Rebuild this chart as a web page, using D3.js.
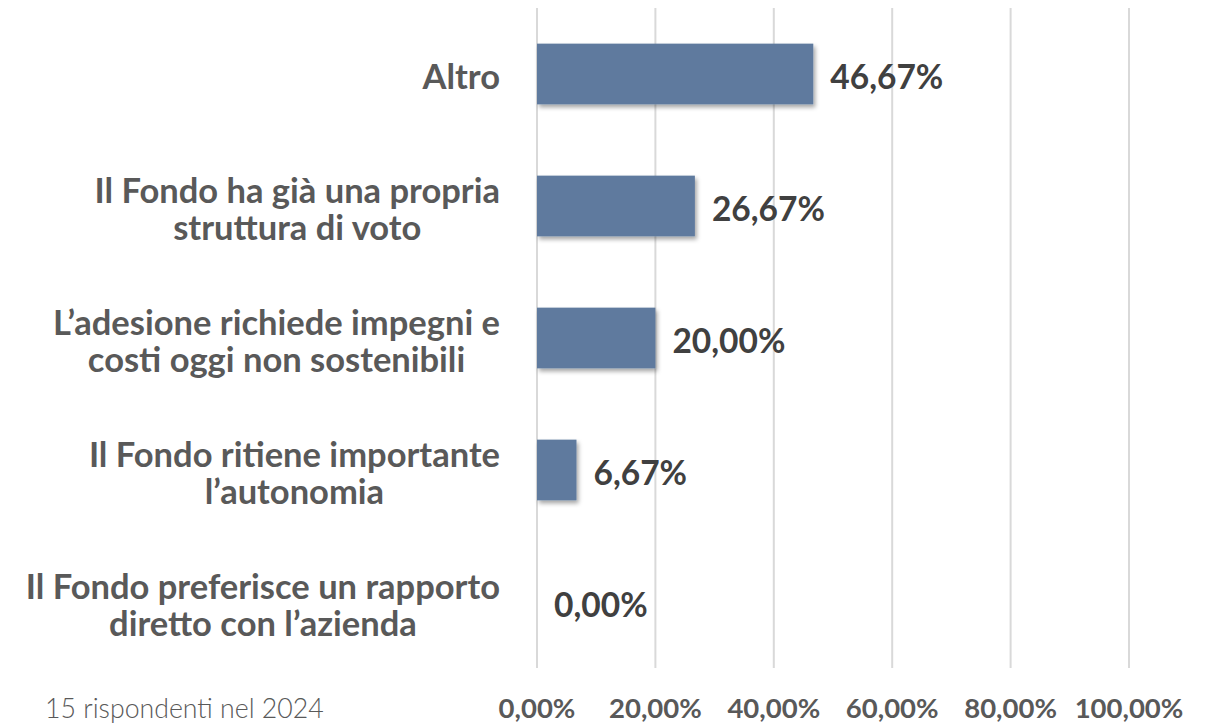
<!DOCTYPE html>
<html>
<head>
<meta charset="utf-8">
<script src="https://cdn.jsdelivr.net/npm/d3@7"></script>
<style>
  body { margin: 0; background: #fff; }
  svg { display: block; }
</style>
</head>
<body>
<div id="chart"></div>
<script>
// categories (top to bottom), each one split in lines as in the original
var categories = [
    ["Altro"],
    ["Il Fondo ha già una propria", "struttura di voto"],
    ["L\u2019adesione richiede impegni e", "costi oggi non sostenibili"],
    ["Il Fondo ritiene importante", "l\u2019autonomia"],
    ["Il Fondo preferisce un rapporto", "diretto con l\u2019azienda"]
];
var values = [46.67, 26.67, 20.00, 6.67, 0.00];
var ticks = [0, 20, 40, 60, 80, 100];
var note = "15 rispondenti nel 2024";

var width = 1215, height = 727;
var fmt = function(v) { return v.toFixed(2).replace(".", ",") + "%"; };

var svg = d3.select("#chart").append("svg")
    .attr("width", width).attr("height", height);

// drop shadow for bars
var defs = svg.append("defs");
defs.append("filter").attr("id", "shadow")
    .attr("x", "-10%").attr("y", "-10%").attr("width", "130%").attr("height", "140%")
  .append("feDropShadow")
    .attr("dx", 2).attr("dy", 3).attr("stdDeviation", 2)
    .attr("flood-color", "#000").attr("flood-opacity", 0.35);

var x = d3.scaleLinear().domain([0, 100]).range([537, 1129]);
var y = d3.scaleBand().domain(d3.range(categories.length))
    .range([8, 668]).paddingInner(0.54).paddingOuter(0.27);

// grid lines
svg.append("g").selectAll("line").data(ticks).join("line")
    .attr("x1", d => x(d)).attr("x2", d => x(d))
    .attr("y1", 8).attr("y2", 668)
    .attr("stroke", "#d9d9d9").attr("stroke-width", 2);

// x axis labels
svg.append("g").selectAll("text").data(ticks).join("text")
    .attr("x", d => x(d)).attr("y", 718)
    .attr("text-anchor", "middle")
    .style("font-family", "Lato, sans-serif").style("font-weight", 700)
    .style("font-size", "27.5px").attr("fill", "#595959")
    .text(d => fmt(d));

// bars
svg.append("g").selectAll("rect").data(values).join("rect")
    .attr("x", x(0)).attr("y", (d, i) => y(i))
    .attr("width", d => x(d) - x(0)).attr("height", y.bandwidth())
    .attr("fill", "#5f7a9e")
    .attr("filter", d => d > 0 ? "url(#shadow)" : null);

// value labels
svg.append("g").selectAll("text").data(values).join("text")
    .attr("x", d => x(d) + 17)
    .attr("y", (d, i) => y(i) + y.bandwidth() / 2 + 6)
    .attr("dominant-baseline", "middle")
    .style("font-family", "Lato, sans-serif").style("font-weight", 700)
    .style("font-size", "33.5px").attr("fill", "#404040")
    .text(d => fmt(d));

// category labels: lines centred on each other, block right edge at 500
var lineH = 37;
categories.forEach(function(lines, i) {
    var g = svg.append("text")
        .style("font-family", "Lato, sans-serif").style("font-weight", 700)
        .style("font-size", "34.5px").attr("fill", "#595959")
        .attr("text-anchor", "middle").attr("dominant-baseline", "middle");
    var cy = y(i) + y.bandwidth() / 2 + 6;
    var spans = g.selectAll("tspan").data(lines).join("tspan")
        .attr("y", (d, j) => cy + (j - (lines.length - 1) / 2) * lineH)
        .text(d => d);
    var maxW = d3.max(spans.nodes(), n => n.getComputedTextLength());
    spans.attr("x", 500 - maxW / 2);
});

// footer note
svg.append("text")
    .attr("x", 45).attr("y", 718)
    .style("font-family", "Lato, sans-serif").style("font-weight", 300)
    .style("font-size", "26.7px").attr("fill", "#595959")
    .text(note);
</script>
</body>
</html>
